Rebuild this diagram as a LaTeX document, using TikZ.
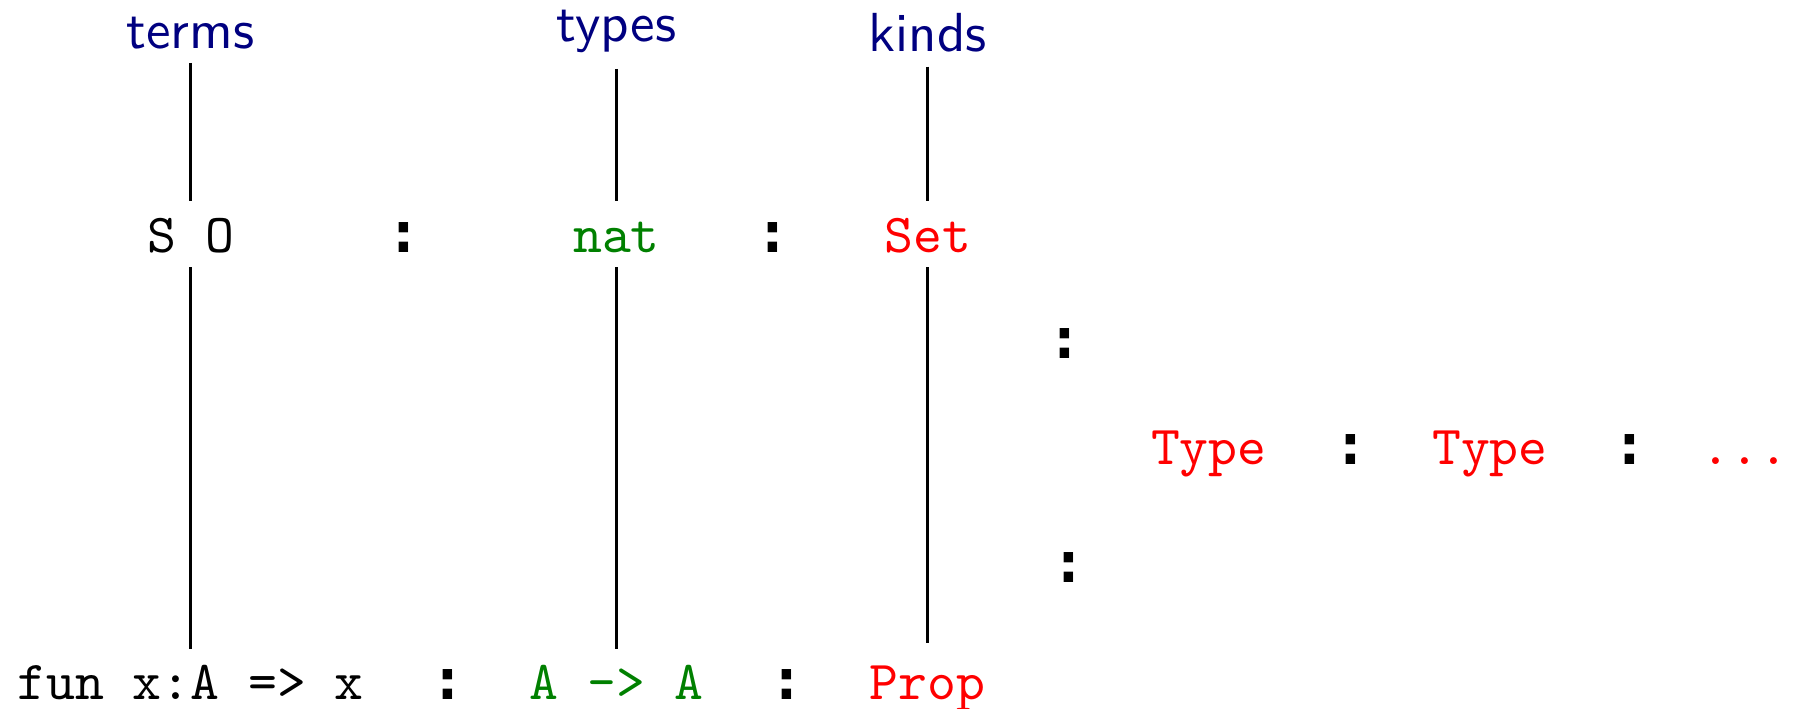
\documentclass[tikz,border=0pt]{standalone}
\usepackage{fontspec}
\newfontfamily\colfont{DejaVu Sans Mono}
\usepackage{xcolor}
\definecolor{hdblue}{RGB}{0,0,128}
\definecolor{tygreen}{RGB}{0,128,0}
\begin{document}
\begin{tikzpicture}[x=0.1818pt,y=-0.1818pt,
  every node/.style={inner sep=0pt, anchor=base},
  head/.style={font=\fontsize{10}{12}\selectfont\sffamily, text=hdblue},
  tt/.style={font=\fontsize{10}{12}\selectfont\ttfamily},
  col/.style={font=\fontsize{10.5}{12}\selectfont\colfont\bfseries},
  vline/.style={line width=0.4pt}]
\useasboundingbox (0,0) rectangle (1800,709);
% headings
\node[head] (terms) at (190.6,48) {terms};
\node[head] (types) at (616.5,41) {types};
\node[head] (kinds) at (927.6,51.7) {kinds};
% row 1
\node[tt] (SO) at (190.6,252.6) {S O};
\node[col] (c1) at (404,252.6) {:};
\node[tt, text=tygreen] (nat) at (616.5,252.6) {nat};
\node[col] (c2) at (772.6,252.6) {:};
\node[tt, text=red] (set) at (927.6,252.6) {Set};
% bottom row
\node[tt] (fun) at (190.6,700) {fun x:A => x};
\node[col] (c3) at (447.7,700) {:};
\node[tt, text=tygreen] (AA) at (616.5,700) {A -> A};
\node[col] (c4) at (786.4,700) {:};
\node[tt, text=red] (prop) at (927.6,700) {Prop};
% right part
\node[col] (c5) at (1065.3,358) {:};
\node[tt, text=red] (type1) at (1208.8,465) {Type};
\node[col] (c6) at (1351.2,465) {:};
\node[tt, text=red] (type2) at (1490,465) {Type};
\node[col] (c7) at (1630,465) {:};
\node[tt, text=red] (dots) at (1745,465) {...};
\node[col] (c8) at (1068.8,583) {:};
% line end points
\coordinate (t1) at (190.6,63);  \coordinate (t2) at (190.6,201);
\coordinate (t3) at (190.6,267.5); \coordinate (t4) at (190.6,648.6);
\coordinate (y1) at (616.5,69);  \coordinate (y2) at (616.5,201);
\coordinate (y3) at (616.5,267.5); \coordinate (y4) at (616.5,648.6);
\coordinate (k1) at (927.6,66.6); \coordinate (k2) at (927.6,201);
\coordinate (k3) at (927.6,267.5); \coordinate (k4) at (927.6,643);
\draw[vline] (t1) -- (t2); \draw[vline] (t3) -- (t4);
\draw[vline] (y1) -- (y2); \draw[vline] (y3) -- (y4);
\draw[vline] (k1) -- (k2); \draw[vline] (k3) -- (k4);
\end{tikzpicture}
\end{document}
